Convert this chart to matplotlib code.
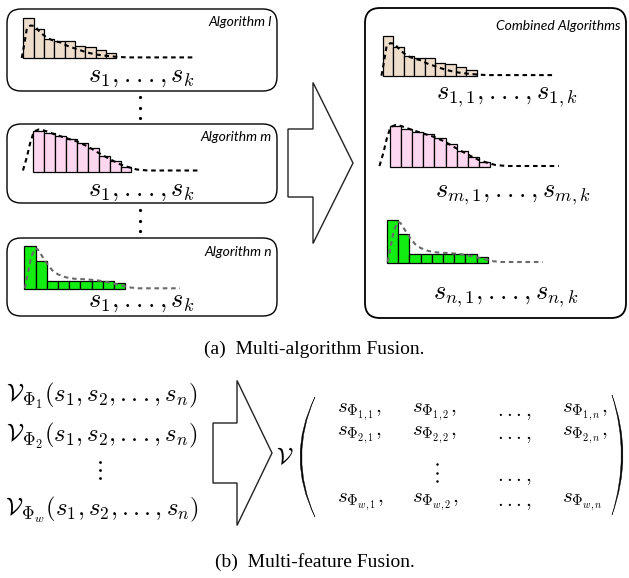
import matplotlib
matplotlib.use("Agg")
import matplotlib.pyplot as plt
from matplotlib.patches import FancyBboxPatch, Polygon, PathPatch
from matplotlib.path import Path

plt.rcParams["mathtext.fontset"] = "cm"

W, H = 629, 578

# --- score histograms: bar heights (px) -----------------------------------
tan_heights = [40, 28.7, 19.3, 17.2, 17.2, 12.5, 11.5, 8.5, 5.5]
pink_heights = [41, 38.3, 35.3, 32.7, 28.7, 23.3, 16, 10.3, 5]
green_heights = [43.3, 28.7, 8.7, 8.7, 8.7, 8.7, 8.7, 8.7, 6]

# fitted density curves (x in bar units, y in px)
tan_curve_x = [-0.15, 0.1, 0.35, 0.7, 1.1, 1.6, 2.3, 3.0, 3.6, 4.3, 5.0, 6.0, 7.0, 8.0, 9.0, 10.0, 16.4]
tan_curve_y = [0, 14, 30, 32.5, 32, 26, 20, 17, 15.5, 12, 9.5, 6, 3.5, 2.2, 1.2, 0.6, 0.6]
pink_curve_x = [-0.95, -0.6, -0.3, 0.05, 0.5, 1.0, 1.5, 2.0, 3.0, 4.0, 5.0, 6.0, 7.0, 8.0, 8.7, 9.5, 10.5, 15.2]
pink_curve_y = [1, 14, 28, 40, 42, 41, 39, 37, 33.5, 30, 25, 18.5, 12.5, 7, 4.5, 2, 1, 1]
green_curve_x = [0.05, 0.3, 0.6, 0.95, 1.2, 1.6, 2.0, 2.5, 3.0, 3.7, 4.5, 5.5, 6.5, 7.5, 8.5, 9.3, 10.2, 13.9]
green_curve_y = [1, 15, 32, 41, 40, 33, 26, 19, 15, 12, 10.5, 10, 9, 7, 4.5, 2, 1, 1]

tan_color = "#EFDDCC"
pink_color = "#FDD6F0"
green_color = "#12EE12"

algo_labels = ["Algorithm l", "Algorithm m", "Algorithm n"]
score_label = r"$s_1,...,s_k$"
combined_labels = [r"$s_{1,1},...,s_{1,k}$",
                   r"$s_{m,1},...,s_{m,k}$",
                   r"$s_{n,1},...,s_{n,k}$"]
feature_rows = [r"$\mathcal{V}_{\Phi_1}(s_1,s_2,...,s_n)$",
                r"$\mathcal{V}_{\Phi_2}(s_1,s_2,...,s_n)$",
                r"$\mathcal{V}_{\Phi_w}(s_1,s_2,...,s_n)$"]
matrix_rows = [[r"$s_{\Phi_{1,1}},$", r"$s_{\Phi_{1,2}},$", r"$...,$", r"$s_{\Phi_{1,n}},$"],
               [r"$s_{\Phi_{2,1}},$", r"$s_{\Phi_{2,2}},$", r"$...,$", r"$s_{\Phi_{2,n}},$"],
               [r"$s_{\Phi_{w,1}},$", r"$s_{\Phi_{w,2}},$", r"$...,$", r"$s_{\Phi_{w,n}}$"]]
caption_a = "(a)  Multi-algorithm Fusion."
caption_b = "(b)  Multi-feature Fusion."

datasets = {
    "tan": (tan_heights, tan_curve_x, tan_curve_y, tan_color, "black"),
    "pink": (pink_heights, pink_curve_x, pink_curve_y, pink_color, "black"),
    "green": (green_heights, green_curve_x, green_curve_y, green_color, "#6a6a6a"),
}

fig = plt.figure(figsize=(W / 100, H / 100), dpi=100)
ax = fig.add_axes([0, 0, 1, 1])
ax.set_xlim(0, W)
ax.set_ylim(H, 0)
ax.axis("off")


def rounded_box(x, y, w, h, r=14, lw=1.0):
    ax.add_patch(FancyBboxPatch((x, y), w, h,
                                boxstyle=f"round,pad=0,rounding_size={r}",
                                fc="white", ec="black", lw=lw))


def block_arrow(x0, xb, xt, yc, shaft_half, head_half):
    pts = [(x0, yc - shaft_half), (xb, yc - shaft_half), (xb, yc - head_half),
           (xt, yc), (xb, yc + head_half), (xb, yc + shaft_half), (x0, yc + shaft_half)]
    ax.add_patch(Polygon(pts, closed=True, fc="white", ec="#222222", lw=1.0))


def vdots(x, yc, gap, size=2.3):
    ax.plot([x, x, x], [yc - gap, yc, yc + gap], "o", color="black",
            ms=size, mew=0)


def histogram(key, x0, bw, base):
    heights, cx, cy, color, ccol = datasets[key]
    lo, hi = -1.5, 18
    hax = fig.add_axes([(x0 + lo * bw) / W, (H - base) / H, (hi - lo) * bw / W, 50 / H])
    hax.set_xlim(lo, hi)
    hax.set_ylim(0, 50)
    hax.axis("off")
    hax.bar(range(len(heights)), heights, width=1, align="edge", color=color,
            edgecolor="black", lw=0.9, clip_on=False)
    hax.plot(cx, cy, ls=(0, (2.2, 1.8)), color=ccol, lw=1.5, clip_on=False)


# ---- (a) left column: one box per algorithm ----
left_boxes = [(7, 9, 270, 82), (7, 124, 270, 79), (7, 238, 270, 78)]
for (bx, by, bw_, bh) in left_boxes:
    rounded_box(bx, by, bw_, bh)

label_y = [22, 137, 252]
score_y = [76, 190, 301]
for lab, ly, sy in zip(algo_labels, label_y, score_y):
    ax.text(272, ly, lab, ha="right", va="center", fontsize=10,
            family="Lato", style="italic")
    ax.text(141, sy, score_label, ha="center", va="center", fontsize=19)

vdots(140, 107.5, 10.5)
vdots(140, 220.5, 10.5)

# ---- arrow to combined box ----
block_arrow(288, 313, 353, 163, 34, 80.5)

# ---- (a) right: combined algorithms ----
rounded_box(365, 8, 261, 310, r=15, lw=1.3)
ax.text(620, 26, "Combined Algorithms", ha="right", va="center", fontsize=10,
        family="Lato", style="italic")
for lab, (cx_, cy_) in zip(combined_labels, [(507, 96), (513, 194), (506, 296)]):
    ax.text(cx_, cy_, lab, ha="center", va="center", fontsize=19)

ax.text(314.5, 349, caption_a, ha="center", va="center", fontsize=14,
        family="Liberation Serif")

# ---- (b) feature fusion ----
for row, y in zip(feature_rows, [396, 436, 510]):
    ax.text(102, y, row, ha="center", va="center", fontsize=17.8)
vdots(100, 470, 8.3, size=2.0)

block_arrow(213, 237, 272, 453, 30, 72.5)

ax.text(285, 457, r"$\mathcal{V}$", ha="center", va="center", fontsize=17)


def paren(tip_x, out_x, in_x, y0, y1):
    ym = (y0 + y1) / 2
    verts = [(tip_x, y0), (out_x, ym), (tip_x, y1), (in_x, ym), (tip_x, y0), (tip_x, y0)]
    codes = [Path.MOVETO, Path.CURVE3, Path.CURVE3, Path.CURVE3, Path.CURVE3, Path.CLOSEPOLY]
    ax.add_patch(PathPatch(Path(verts, codes), fc="black", ec="black", lw=0.3))


paren(315, 285, 288.5, 397, 517)
paren(612, 634, 630.5, 395, 515)

col_x = [337, 412, 497, 562]
row_y = [412, 435, 502]
for entries, y in zip(matrix_rows, row_y):
    for txt, x in zip(entries, col_x):
        ax.text(x, y, txt, ha="left", va="center", fontsize=15)
vdots(437, 472.5, 8.3, size=1.8)
ax.text(col_x[2], 477, r"$...,$", ha="left", va="center", fontsize=15)

ax.text(314.5, 562, caption_b, ha="center", va="center", fontsize=14,
        family="Liberation Serif")

# histograms on top of the boxes
histogram("tan", 23.3, 10.35, 58)
histogram("pink", 33.3, 10.9, 171.5)
histogram("green", 24.3, 11.2, 289.3)
histogram("tan", 383, 10.4, 75.7)
histogram("pink", 390, 11.1, 167)
histogram("green", 387, 11.2, 263)

fig.savefig("out.png", dpi=100)
